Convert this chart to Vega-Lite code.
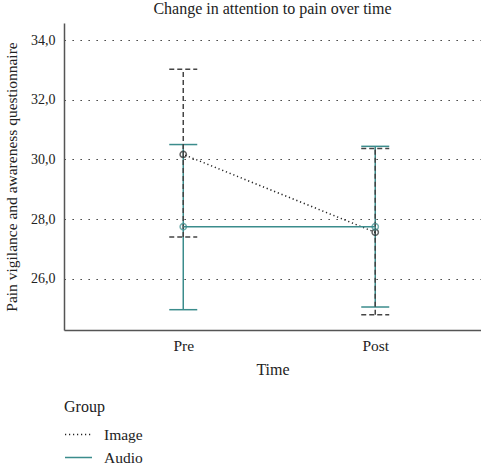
{
  "$schema": "https://vega.github.io/schema/vega-lite/v6.json",
  "autosize": "none",
  "width": 417,
  "height": 307,
  "padding": {"left": 64, "top": 23, "right": 0, "bottom": 134},
  "background": "white",
  "config": {
    "font": "Liberation Serif",
    "view": {"stroke": null},
    "axis": {
      "labelFont": "Liberation Serif",
      "titleFont": "Liberation Serif",
      "labelColor": "#222222",
      "titleColor": "#222222",
      "titleFontWeight": "normal",
      "domainColor": "#555555",
      "domainWidth": 1.5,
      "ticks": false
    },
    "legend": {
      "labelFont": "Liberation Serif",
      "titleFont": "Liberation Serif",
      "titleFontWeight": "normal"
    }
  },
  "title": {
    "text": "Change in attention to pain over time",
    "font": "Liberation Serif",
    "fontSize": 16,
    "fontWeight": "normal",
    "color": "#222222",
    "anchor": "middle",
    "offset": 6
  },
  "data": {
    "values": [
      {"Time": "Pre", "Group": "Image", "mean": 30.17, "lo": 27.4, "hi": 33.02},
      {"Time": "Post", "Group": "Image", "mean": 27.56, "lo": 24.8, "hi": 30.37},
      {"Time": "Pre", "Group": "Audio", "mean": 27.75, "lo": 24.97, "hi": 30.5},
      {"Time": "Post", "Group": "Audio", "mean": 27.75, "lo": 25.06, "hi": 30.44}
    ]
  },
  "encoding": {
    "x": {
      "field": "Time",
      "type": "ordinal",
      "sort": ["Pre", "Post"],
      "scale": {"type": "point", "padding": 0.586, "align": 0.53},
      "axis": {
        "title": "Time",
        "labelAngle": 0,
        "labelFontSize": 15.5,
        "titleFontSize": 16,
        "labelPadding": 8,
        "titlePadding": 8,
        "grid": false
      }
    }
  },
  "layer": [
    {
      "mark": {"type": "rule", "stroke": "#3b8c8c", "strokeWidth": 1.5},
      "transform": [{"filter": "datum.Group === 'Audio'"}],
      "encoding": {
        "y": {
          "field": "lo",
          "type": "quantitative",
          "scale": {"domain": [24.29, 34.57], "nice": false, "zero": false},
          "axis": {
            "title": "Pain vigilance and awareness questionnaire",
            "values": [26, 28, 30, 32, 34],
            "labelExpr": "replace(format(datum.value, '.1f'), '.', ',')",
            "labelFontSize": 14,
            "titleFontSize": 15.5,
            "labelPadding": 9,
            "titlePadding": 11,
            "grid": true,
            "gridColor": "#222222",
            "gridDash": [1.3, 6.7],
            "gridWidth": 1.2
          }
        },
        "y2": {"field": "hi"}
      }
    },
    {
      "mark": {"type": "rule", "stroke": "#3b8c8c", "strokeWidth": 1.5, "xOffset": -14, "x2Offset": 14},
      "transform": [{"filter": "datum.Group === 'Audio'"}],
      "encoding": {
        "x2": {"field": "Time"},
        "y": {"field": "hi", "type": "quantitative"}
      }
    },
    {
      "mark": {"type": "rule", "stroke": "#3b8c8c", "strokeWidth": 1.5, "xOffset": -14, "x2Offset": 14},
      "transform": [{"filter": "datum.Group === 'Audio'"}],
      "encoding": {
        "x2": {"field": "Time"},
        "y": {"field": "lo", "type": "quantitative"}
      }
    },
    {
      "mark": {"type": "rule", "stroke": "#444444", "strokeWidth": 1.5, "strokeDash": [5, 3]},
      "transform": [{"filter": "datum.Group === 'Image'"}],
      "encoding": {
        "y": {"field": "lo", "type": "quantitative"},
        "y2": {"field": "hi"}
      }
    },
    {
      "mark": {"type": "rule", "stroke": "#444444", "strokeWidth": 1.5, "strokeDash": [5, 3], "xOffset": -14, "x2Offset": 14},
      "transform": [{"filter": "datum.Group === 'Image'"}],
      "encoding": {
        "x2": {"field": "Time"},
        "y": {"field": "hi", "type": "quantitative"}
      }
    },
    {
      "mark": {"type": "rule", "stroke": "#444444", "strokeWidth": 1.5, "strokeDash": [5, 3], "xOffset": -14, "x2Offset": 14},
      "transform": [{"filter": "datum.Group === 'Image'"}],
      "encoding": {
        "x2": {"field": "Time"},
        "y": {"field": "lo", "type": "quantitative"}
      }
    },
    {
      "mark": {"type": "line", "strokeWidth": 1.5},
      "encoding": {
        "y": {"field": "mean", "type": "quantitative"},
        "color": {
          "field": "Group",
          "type": "nominal",
          "scale": {"domain": ["Image", "Audio"], "range": ["#222222", "#3b8c8c"]},
          "legend": {
            "title": "Group",
            "orient": "none",
            "legendX": 0,
            "legendY": 376,
            "direction": "vertical",
            "symbolType": "stroke",
            "symbolSize": 729,
            "symbolStrokeWidth": 1.5,
            "labelFontSize": 15.5,
            "titleFontSize": 16,
            "titlePadding": 5,
            "rowPadding": -2,
            "labelOffset": 11,
            "labelColor": "#222222",
            "titleColor": "#222222"
          }
        },
        "strokeDash": {
          "field": "Group",
          "type": "nominal",
          "scale": {"domain": ["Image", "Audio"], "range": [[1.2, 2.8], [1, 0]]},
          "legend": null
        },
        "order": {"field": "Time", "type": "ordinal"}
      }
    },
    {
      "mark": {"type": "point", "filled": false, "size": 40, "strokeWidth": 1.5, "shape": "circle"},
      "encoding": {
        "y": {"field": "mean", "type": "quantitative"},
        "color": {"field": "Group", "type": "nominal", "legend": null}
      }
    }
  ]
}
